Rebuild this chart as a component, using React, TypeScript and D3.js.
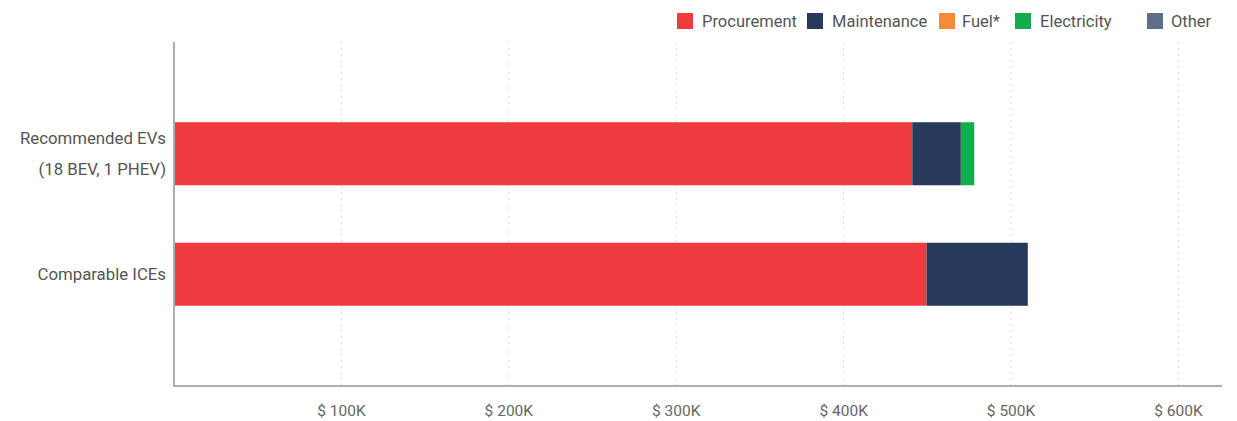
import React from "react";
import * as d3 from "d3";

const categories = ["Recommended EVs|(18 BEV, 1 PHEV)", "Comparable ICEs"];
const seriesNames = ["Procurement", "Maintenance", "Fuel*", "Electricity", "Other"];
const seriesColors = ["#EF3B3F", "#273A5C", "#F58A3A", "#12AE4E", "#5E6E89"];
const procurement = [441000, 449500];
const maintenance = [29000, 60500];
const fuel = [0, 0];
const electricity = [8000, 0];
const other = [0, 0];
const tickValues = [100000, 200000, 300000, 400000, 500000, 600000];

const W = 1237;
const H = 421;
const left = 174;
const right = 1222;
const top = 42;
const bottom = 386;

export default function App() {
  const x = d3.scaleLinear().domain([0, 626000]).range([left, right]);
  const y = d3
    .scaleBand<string>()
    .domain(categories)
    .range([top, bottom])
    .paddingInner(0.477)
    .paddingOuter(0.666);

  const rows = categories.map((c, i) => ({
    cat: c,
    Procurement: procurement[i],
    Maintenance: maintenance[i],
    "Fuel*": fuel[i],
    Electricity: electricity[i],
    Other: other[i],
  }));
  const stacked = d3.stack<any>().keys(seriesNames)(rows);

  const legendX = [677, 807, 939, 1015, 1147];
  const legendTextX = [702, 832, 962, 1040, 1171];
  const font = "Roboto, 'Noto Sans', sans-serif";

  return (
    <svg width={W} height={H} style={{ position: "absolute", left: 0, top: 0, background: "#fff" }} fontFamily={font}>
      {/* gridlines */}
      {tickValues.map((t) => (
        <line key={t} x1={x(t)} x2={x(t)} y1={top} y2={bottom} stroke="#d8dce0" strokeWidth={1} strokeDasharray="2,4" />
      ))}
      {/* bars */}
      {stacked.map((s, si) =>
        s.map((d, di) =>
          d[1] - d[0] > 0 ? (
            <rect
              key={si + "-" + di}
              x={x(d[0])}
              width={x(d[1]) - x(d[0])}
              y={y(categories[di])}
              height={y.bandwidth()}
              fill={seriesColors[si]}
            />
          ) : null
        )
      )}
      {/* axes */}
      <line x1={left} x2={left} y1={top} y2={bottom} stroke="#a9afb6" strokeWidth={2} />
      <line x1={left - 1} x2={right} y1={bottom} y2={bottom} stroke="#a9afb6" strokeWidth={2} />
      {tickValues.map((t) => (
        <text key={t} x={x(t)} y={416} textAnchor="middle" fontSize={15.5} fill="#666">
          {"$ " + t / 1000 + "K"}
        </text>
      ))}
      {/* category labels */}
      {categories.map((c) => {
        const lines = c.split("|");
        const cy = (y(c) as number) + y.bandwidth() / 2;
        const lh = 31;
        const start = cy - ((lines.length - 1) * lh) / 2;
        return lines.map((l, i) => (
          <text key={c + i} x={166} y={start + i * lh + 6} textAnchor="end" fontSize={16.8} fill="#555">
            {l}
          </text>
        ));
      })}
      {/* legend */}
      {seriesNames.map((n, i) => (
        <g key={n}>
          <rect x={legendX[i]} y={13} width={16} height={16} fill={seriesColors[i]} />
          <text x={legendTextX[i]} y={27} fontSize={16.5} fill="#555">
            {n}
          </text>
        </g>
      ))}
    </svg>
  );
}
